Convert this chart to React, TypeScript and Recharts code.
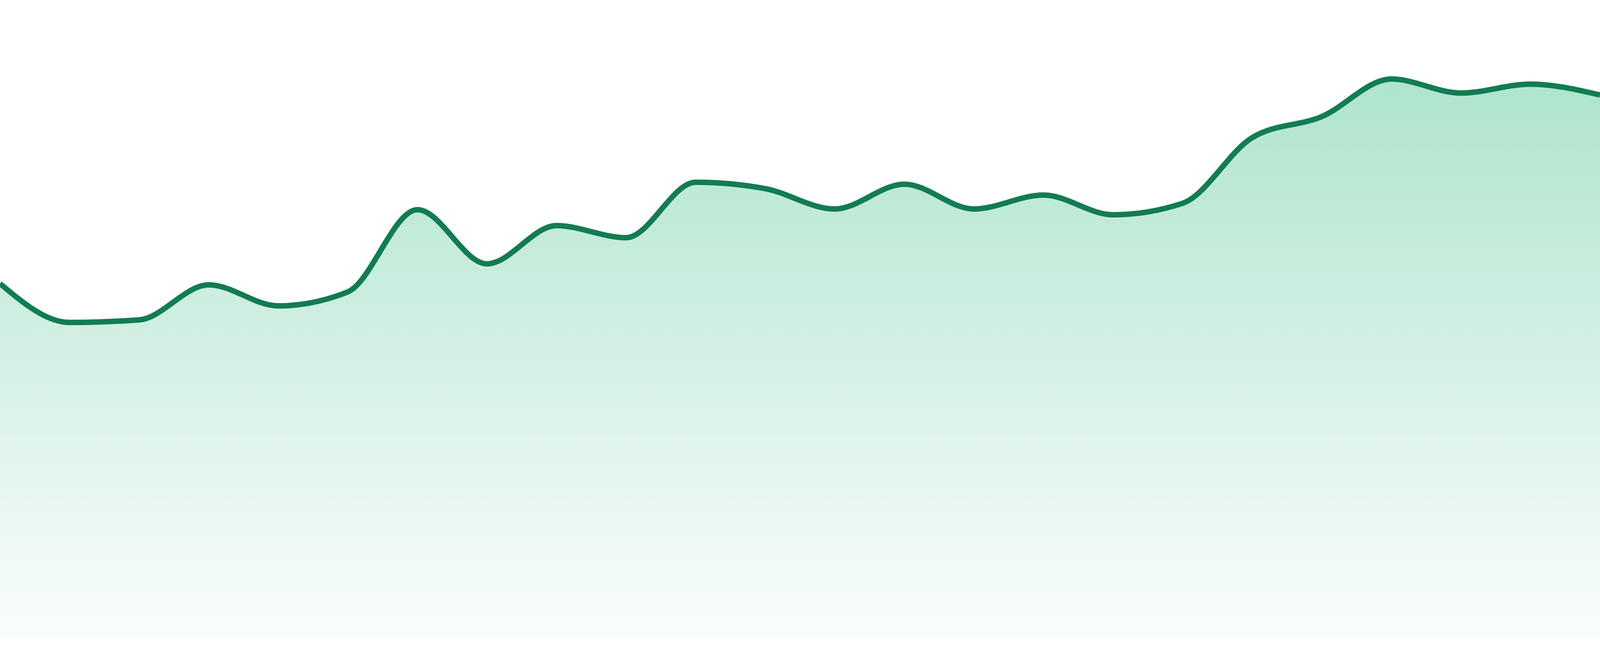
import React from "react";
import { AreaChart, Area, XAxis, YAxis } from "recharts";

const categories = [
  "P1", "P2", "P3", "P4", "P5", "P6", "P7", "P8", "P9", "P10", "P11", "P12",
  "P13", "P14", "P15", "P16", "P17", "P18", "P19", "P20", "P21", "P22", "P23", "P24",
];

const values = [
  55.5, 49.4, 49.8, 55.3, 52.0, 54.2, 67.1, 58.6, 64.6, 62.7, 71.4, 70.4,
  67.2, 71.1, 67.2, 69.4, 66.3, 68.1, 78.4, 81.7, 87.6, 85.4, 86.8, 85.1,
];

const data = categories.map((c, i) => ({ name: c, value: values[i] }));

// The browser viewport is 4096px wide, so the chart fills the visible frame.
const CHART_W = 4096;
const CHART_H = 1680;

export default function App() {
  return (
    <div style={{ position: "absolute", left: 0, top: 0, width: CHART_W, height: CHART_H, background: "#ffffff", overflow: "hidden" }}>
      <AreaChart width={CHART_W} height={CHART_H} data={data} margin={{ top: 0, right: 0, bottom: 48, left: 0 }}>
        <defs>
          <linearGradient id="areaFill" x1="0" y1="0" x2="0" y2="1">
            <stop offset="0%" stopColor="#aee4cd" stopOpacity={1} />
            <stop offset="100%" stopColor="#fafdfc" stopOpacity={1} />
          </linearGradient>
        </defs>
        <XAxis dataKey="name" hide />
        <YAxis hide domain={[0, 100]} />
        <Area
          type="monotone"
          dataKey="value"
          stroke="#127c52"
          strokeWidth={14}
          fill="url(#areaFill)"
          fillOpacity={1}
          dot={false}
          activeDot={false}
          isAnimationActive={false}
        />
      </AreaChart>
    </div>
  );
}
